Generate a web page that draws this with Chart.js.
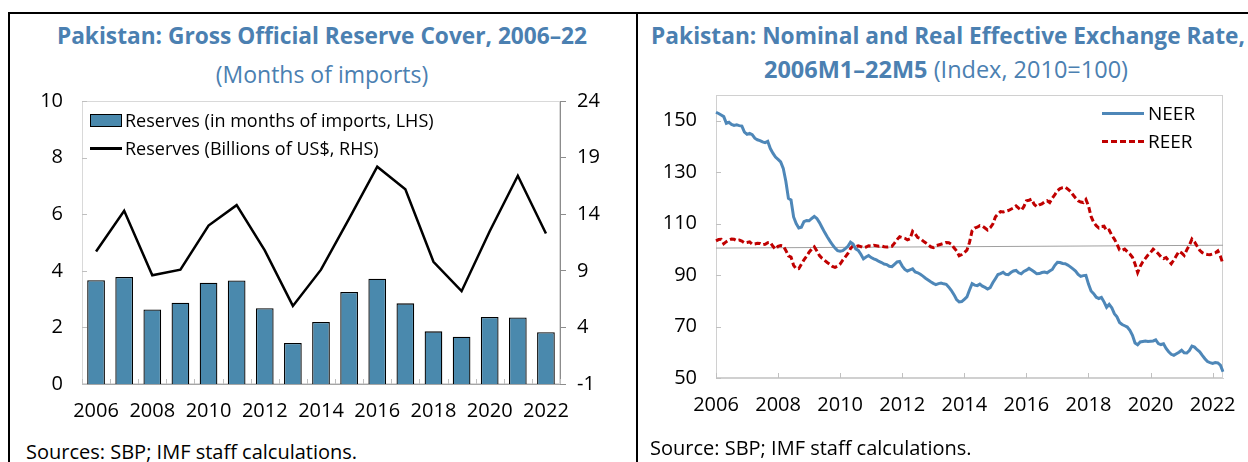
<!DOCTYPE html>
<html lang="en">
<head>
  <meta charset="utf-8"/>
  <title>Pakistan: Reserve Cover and Effective Exchange Rates</title>

  <!-- Chart.js -->
  <script src="https://cdn.jsdelivr.net/npm/chart.js"></script>

  <style>
    body { margin: 0; width: 1248px; height: 462px; overflow: hidden; background: #fff;
           position: relative; font-family: 'Open Sans', sans-serif; color: #000; }
    .frame { position: absolute; top: 12px; height: 460px; border-top: 2px solid #000; }
    #frameL { left: 8px; width: 626px; border-left: 2px solid #000; border-right: 2px solid #000; }
    #frameR { left: 636px; width: 612px; }

    .title { position: absolute; color: #4b80b1; text-align: center; white-space: nowrap;
             line-height: 30px; }
    .title b { font-weight: 700; }
    .src { position: absolute; font-size: 20px; line-height: 24px; white-space: nowrap; }

    .leg { position: absolute; font-size: 18px; line-height: 24px; white-space: nowrap; }
    .leg span { position: absolute; }

    canvas { position: absolute; }
  </style>
</head>
<body>
  <div class="frame" id="frameL"></div>
  <div class="frame" id="frameR"></div>

  <!-- left panel -->
  <div class="title" style="left:10px; width:624px; top:21px; font-size:22.7px;">
    <b>Pakistan: Gross Official Reserve Cover, 2006–22</b></div>
  <div class="title" style="left:10px; width:624px; top:59px; font-size:23px;">(Months of imports)</div>
  <div style="position:absolute; left:14px; top:88px; width:610px; height:350px;">
    <canvas id="reserveChart" width="610" height="350"></canvas>
  </div>
  <div class="leg" style="left:90px; top:108px;">
    <span style="left:0; top:6px; width:30px; height:11px; background:#4a89ad; border:1px solid #000;"></span>
    <span style="left:35px; top:0;">Reserves (in months of imports, LHS)</span>
  </div>
  <div class="leg" style="left:90px; top:136px;">
    <span style="left:0; top:11px; width:32px; height:0; border-top:3px solid #000;"></span>
    <span style="left:35px; top:0;">Reserves (Billions of US$, RHS)</span>
  </div>
  <div class="src" style="left:26px; top:440px;">Sources: SBP; IMF staff calculations.</div>

  <!-- right panel -->
  <div class="title" style="left:636px; width:624px; top:21px; font-size:22.7px;">
    <b>Pakistan: Nominal and Real Effective Exchange Rate,</b></div>
  <div class="title" style="left:634px; width:624px; top:54px; font-size:23.5px;">
    <b>2006M1–22M5</b> (Index, 2010=100)</div>
  <div style="position:absolute; left:650px; top:88px; width:598px; height:350px;">
    <canvas id="eerChart" width="598" height="350"></canvas>
  </div>
  <div class="leg" style="left:1102px; top:101px; font-size:19px;">
    <span style="left:0; top:11px; width:42px; height:0; border-top:3px solid #4e87b8;"></span>
    <span style="left:46px; top:0;">NEER</span>
  </div>
  <div class="leg" style="left:1102px; top:129px; font-size:19px;">
    <span style="left:0; top:11px; width:42px; height:0; border-top:3px dashed #c00000;"></span>
    <span style="left:46px; top:0;">REER</span>
  </div>
  <div class="src" style="left:650px; top:436px;">Source: SBP; IMF staff calculations.</div>

  <script>
  // ── DATA ─────────────────────────────────────────
  const years = ['2006', '2007', '2008', '2009', '2010', '2011', '2012', '2013', '2014',
                 '2015', '2016', '2017', '2018', '2019', '2020', '2021', '2022'];
  // reserves in months of imports (LHS)
  const reserveMonths = [3.67, 3.78, 2.63, 2.87, 3.58, 3.66, 2.68, 1.45, 2.19,
                         3.25, 3.72, 2.85, 1.86, 1.67, 2.37, 2.35, 1.83];
  // reserves, billions of US$ (RHS)
  const reserveUsd = [10.7, 14.3, 8.6, 9.1, 13.0, 14.8, 10.8, 5.9, 9.1,
                      13.6, 18.2, 16.2, 9.8, 7.2, 12.5, 17.4, 12.3];
  const lhsTicks = [0, 2, 4, 6, 8, 10];
  const rhsTicks = [-1, 4, 9, 14, 19, 24];

  // monthly effective exchange rates, 2006M1–2022M5 (2010=100)
  const neer = [
    153.3, 152.8, 152.2, 151.6, 149.0, 149.4, 148.6, 148.2, 148.4, 148.1, 147.9, 145.6, // 2006
    144.7, 145.1, 144.6, 143.2, 142.6, 142.3, 141.8, 141.5, 142.0, 139.2, 137.4, 135.9, // 2007
    135.0, 134.0, 131.5, 126.5, 119.8, 119.2, 112.6, 110.0, 108.3, 108.6, 110.8, 111.2, // 2008
    111.1, 112.0, 112.8, 112.0, 110.4, 108.5, 106.6, 104.9, 103.3, 101.8, 100.5,  99.5, // 2009
     99.3,  99.5, 100.3, 101.2, 102.8, 102.1, 100.2,  99.6,  98.1,  96.3,  97.0,  97.6, // 2010
     96.8,  96.3,  95.9,  95.3,  94.9,  94.3,  94.1,  93.4,  93.3,  94.2,  95.1,  95.3, // 2011
     93.5,  92.2,  91.6,  92.0,  92.4,  91.2,  90.9,  90.3,  89.6,  88.8,  88.1,  87.4, // 2012
     86.8,  86.3,  86.7,  86.9,  86.6,  86.4,  85.3,  84.0,  82.4,  80.5,  79.6,  79.7, // 2013
     80.6,  81.5,  84.2,  86.7,  86.1,  85.9,  86.5,  85.7,  85.2,  84.6,  85.1,  87.0, // 2014
     88.6,  90.2,  90.6,  91.1,  90.3,  90.2,  91.0,  91.6,  91.8,  90.9,  90.5,  91.4, // 2015
     91.9,  92.6,  92.0,  91.3,  90.5,  90.6,  91.0,  91.2,  90.9,  91.6,  92.2,  93.8, // 2016
     95.0,  94.9,  94.5,  94.4,  93.9,  93.2,  92.4,  91.6,  90.3,  89.5,  89.8,  89.9, // 2017
     86.5,  83.8,  82.8,  81.4,  80.9,  81.3,  79.6,  77.5,  78.6,  77.3,  75.0,  73.8, // 2018
     71.6,  70.8,  70.3,  69.8,  68.5,  66.6,  63.6,  62.9,  64.0,  64.2,  64.4,  64.2, // 2019
     64.3,  64.4,  64.8,  63.4,  63.0,  63.3,  61.5,  60.2,  59.2,  58.8,  59.4,  60.0, // 2020
     60.8,  59.8,  59.7,  60.7,  62.4,  62.0,  61.0,  60.2,  58.8,  57.5,  56.4,  56.0, // 2021
     55.7,  56.0,  55.9,  55.0,  52.4                                                   // 2022
  ];
  const reer = [
    103.3, 103.8, 103.9, 102.2, 103.0, 103.6, 104.0, 103.9, 103.4, 103.6, 103.2, 102.5, // 2006
    102.7, 102.9, 102.0, 102.1, 102.4, 102.3, 101.8, 102.0, 102.6, 102.7, 101.2, 100.1, // 2007
    101.2, 101.5, 101.3,  99.6,  97.5,  97.0,  93.8,  92.4,  92.5,  94.2,  95.9,  97.3, // 2008
     98.9, 100.1, 101.0,  99.4,  97.6,  96.5,  95.7,  94.9,  94.2,  93.4,  93.0,  93.5, // 2009
     94.3,  95.8,  97.1,  98.4, 100.3, 101.4, 101.0, 101.4, 101.1, 100.6, 100.9, 101.4, // 2010
    101.3, 101.6, 101.4, 101.2, 101.3, 101.0, 100.9, 101.0, 101.2, 102.4, 103.8, 104.9, // 2011
    104.6, 104.3, 103.7, 104.1, 107.0, 106.0, 104.6, 104.2, 103.3, 102.6, 101.8, 101.0, // 2012
    100.7, 101.4, 101.7, 102.0, 102.3, 102.7, 102.6, 102.0, 100.6,  99.4,  97.5,  98.0, // 2013
     98.8,  99.7, 102.7, 107.2, 108.3, 108.6, 109.2, 109.0, 108.3, 107.5, 108.4, 109.8, // 2014
    112.6, 113.8, 114.7, 114.5, 114.8, 115.1, 115.6, 116.1, 116.9, 116.0, 115.2, 116.6, // 2015
    118.9, 119.1, 119.5, 117.5, 116.6, 117.3, 117.7, 118.4, 118.9, 118.2, 119.9, 121.3, // 2016
    122.8, 123.6, 124.0, 124.2, 123.4, 122.6, 121.2, 120.0, 118.9, 118.4, 118.2, 119.4, // 2017
    116.9, 112.8, 110.5, 109.2, 108.3, 108.9, 109.0, 107.2, 107.5, 105.5, 104.0, 102.1, // 2018
     99.8,  99.6, 100.1,  99.1,  98.2,  96.9,  94.3,  91.0,  93.4,  95.2,  96.5,  97.8, // 2019
     98.8, 100.1,  99.3,  98.3,  97.1,  96.4,  96.8,  95.6,  94.4,  95.9,  97.6,  99.2, // 2020
     98.6,  97.6,  99.8, 101.6, 104.0, 102.9, 101.2,  99.6,  98.7,  98.2,  98.0,  97.9, // 2021
     98.2,  98.6,  99.4,  97.3,  94.3                                                   // 2022
  ];
  // thin grey reference line, first and last month
  const refLine = [100.5, 101.6];
  const eerTicks = [50, 70, 90, 110, 130, 150];

  // month labels 2006M1 … 2022M5
  const monthLabels = [];
  for (let y = 2006; y <= 2022; y++) {
    for (let m = 1; m <= 12; m++) {
      if (y === 2022 && m > 5) break;
      monthLabels.push(y + 'M' + m);
    }
  }
  // ────────────────────────────────────────────────

  Chart.defaults.font.family = "'Open Sans', sans-serif";
  Chart.defaults.font.size = 20;
  Chart.defaults.color = '#000';
  Chart.defaults.animation = false;

  // fixed axis sizes, and no extra label padding pushed into the layout
  const fixWidth = w => s => { s.width = w; s.paddingTop = 0; s.paddingBottom = 0; };
  const fixHeight = h => s => { s.height = h; s.paddingLeft = 0; s.paddingRight = 0; };
  const setTicks = arr => s => { s.ticks = arr.map(v => ({ value: v })); };

  // light plot frame + short inward tick marks
  const plotFrame = {
    id: 'plotFrame',
    beforeDatasetsDraw(chart, args, opts) {
      const { ctx, chartArea: a } = chart;
      ctx.save();
      ctx.strokeStyle = opts.color;
      ctx.lineWidth = 1;
      ctx.strokeRect(a.left + 0.5, a.top + 0.5, a.width - 1, a.height - 1);
      ctx.strokeStyle = opts.tickColor;
      (opts.inner || []).forEach(id => {
        const s = chart.scales[id];
        const half = s.isHorizontal() && s.options.offset
          ? (s.getPixelForValue(1) - s.getPixelForValue(0)) / 2 : 0;
        const pts = [];
        s.ticks.forEach((t, i) => {
          if (s.isHorizontal()) {
            if (half) { pts.push(s.getPixelForValue(i) - half); if (i === s.ticks.length - 1) pts.push(s.getPixelForValue(i) + half); }
            else if (t.label !== '') pts.push(s.getPixelForValue(i));
          } else {
            pts.push(s.getPixelForValue(t.value));
          }
        });
        pts.forEach(p => {
          p = Math.round(p) + 0.5;
          ctx.beginPath();
          if (s.isHorizontal()) { ctx.moveTo(p, a.bottom); ctx.lineTo(p, a.bottom - opts.len); }
          else { ctx.moveTo(a.left, p); ctx.lineTo(a.left + opts.len, p); }
          ctx.stroke();
        });
      });
      ctx.restore();
    }
  };

  // ── Reserve cover (bars + line, two axes) ───────────
  new Chart(document.getElementById('reserveChart'), {
    type: 'bar',
    data: {
      labels: years,
      datasets: [
        { type: 'line', label: 'Reserves (Billions of US$, RHS)', data: reserveUsd, yAxisID: 'y2',
          borderColor: '#000', borderWidth: 2.5, pointRadius: 0, tension: 0, order: 0 },
        { label: 'Reserves (in months of imports, LHS)', data: reserveMonths, yAxisID: 'y',
          backgroundColor: '#4a89ad', borderColor: '#000', borderWidth: 1.3,
          barPercentage: 0.63, categoryPercentage: 1, order: 1 }
      ]
    },
    options: {
      responsive: false,
      layout: { padding: { top: 13, left: 0, right: 0, bottom: 0 } },
      plugins: {
        legend: { display: false },
        tooltip: { enabled: false },
        plotFrame: { color: '#d9d9d9', tickColor: '#bfbfbf', len: 5, inner: ['y', 'x'] }
      },
      scales: {
        x: {
          offset: true,
          grid: { display: false, drawTicks: false },
          border: { color: '#a6a6a6' },
          ticks: { autoSkip: false, maxRotation: 0, padding: 15,
                   callback: (v, i) => (i % 2 === 0 ? years[i] : '') },
          afterFit: fixHeight(54)
        },
        y: {
          position: 'left', min: 0, max: 10,
          grid: { display: false, drawTicks: false },
          border: { color: '#d9d9d9' },
          ticks: { padding: 19 },
          afterBuildTicks: setTicks(lhsTicks),
          afterFit: fixWidth(68)
        },
        y2: {
          position: 'right', min: -1, max: 24,
          grid: { display: true, drawOnChartArea: false, tickLength: 6, color: '#8c8c8c' },
          border: { color: '#8c8c8c' },
          ticks: { padding: 11 },
          afterBuildTicks: setTicks(rhsTicks),
          afterFit: fixWidth(64)
        }
      }
    },
    plugins: [plotFrame]
  });

  // ── NEER / REER ────────────────────────────────────
  new Chart(document.getElementById('eerChart'), {
    type: 'line',
    data: {
      labels: monthLabels,
      datasets: [
        { label: 'NEER', data: neer, borderColor: '#4e87b8', borderWidth: 3,
          pointRadius: 0, tension: 0 },
        { label: 'REER', data: reer, borderColor: '#c00000', borderWidth: 3,
          borderDash: [6, 3], pointRadius: 0, tension: 0 },
        { label: 'ref',
          data: [{ x: monthLabels[0], y: refLine[0] },
                 { x: monthLabels[monthLabels.length - 1], y: refLine[1] }],
          borderColor: '#a0a0a0', borderWidth: 1, pointRadius: 0, order: 5 }
      ]
    },
    options: {
      responsive: false,
      layout: { padding: { top: 7, left: 0, right: 25, bottom: 0 } },
      plugins: {
        legend: { display: false },
        tooltip: { enabled: false },
        plotFrame: { color: '#d0d0d0', tickColor: '#c0c0c0', len: 5, inner: ['y', 'x'] }
      },
      scales: {
        x: {
          offset: false,
          grid: { display: false, drawTicks: false },
          border: { color: '#d0d0d0' },
          ticks: { autoSkip: false, maxRotation: 0, padding: 15,
                   callback: (v, i) => {
                     const [yr, mo] = monthLabels[i].split('M');
                     return (mo === '1' && yr % 2 === 0) ? yr : '';
                   } },
          afterFit: fixHeight(60)
        },
        y: {
          min: 50, max: 160,
          grid: { display: false, drawTicks: false },
          border: { color: '#d0d0d0' },
          ticks: { padding: 19 },
          afterBuildTicks: setTicks(eerTicks),
          afterFit: fixWidth(66)
        }
      }
    },
    plugins: [plotFrame]
  });
  </script>
</body>
</html>
